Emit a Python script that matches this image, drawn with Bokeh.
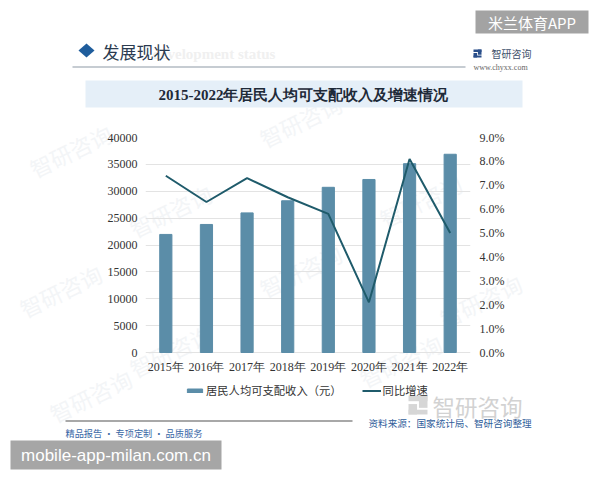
from bokeh.plotting import figure
from bokeh.models import (Range1d, LinearAxis, FixedTicker, Label, BoxAnnotation,
                          PolyAnnotation, Legend, LegendItem, CustomJSTickFormatter)
from bokeh.embed import file_html
from bokeh.resources import INLINE

years = ["2015年", "2016年", "2017年", "2018年", "2019年", "2020年", "2021年", "2022年"]
income = [21966, 23821, 25974, 28228, 30733, 32189, 35128, 36883]
growth = [7.4, 6.3, 7.3, 6.5, 5.8, 2.1, 8.1, 5.0]
left_ticks = [0, 5000, 10000, 15000, 20000, 25000, 30000, 35000, 40000]
right_ticks = [0, 1, 2, 3, 4, 5, 6, 7, 8, 9]
left_max, right_max = 40000, 9

W, H = 600, 480
# plotting area (pixels): value axis from y=352 (zero) up to y=137 (max)
FL, FR, FT, ZERO = 145, 470, 137, 352
FB = 402   # frame extends below zero to hold axis labels and legend

SERIF = "Liberation Serif"
CJK = "Noto Sans CJK SC"
ABS = {"position": "absolute", "left": "0px", "top": "0px"}

# ---------------- background page (decorations) ----------------
bg = figure(width=W, height=H, x_range=Range1d(0, W), y_range=Range1d(H, 0),
            x_axis_type=None, y_axis_type=None, output_backend="svg",
            toolbar_location=None, min_border=0, styles=ABS)
bg.outline_line_color = None
bg.grid.grid_line_color = None
bg.background_fill_color = "white"
bg.border_fill_color = "white"


def box(l, r, t, b, color, alpha=1.0):
    bg.add_layout(BoxAnnotation(left=l, right=r, top=t, bottom=b, fill_color=color,
                                fill_alpha=alpha, line_color=None, line_alpha=0))


def label(x, y, text, font, size, color, align="left", style="normal", angle=0):
    bg.add_layout(Label(x=x, y=y, text=text, text_font=font, text_font_size=size,
                        text_color=color, text_align=align, text_baseline="middle",
                        text_font_style=style, angle=angle))


def logo_icon(x, y, s, color):
    # small stylised logo mark: two stacked bars with a side stroke
    box(x, x + s, y, y + 0.3 * s, color)
    box(x + 0.55 * s, x + s, y, y + 0.65 * s, color)
    box(x, x + 0.45 * s, y + 0.45 * s, y + s, color)
    box(x, x + s, y + 0.75 * s, y + s, color)


# faint watermarks
for wx, wy in [(70, 150), (300, 120), (170, 210), (420, 200), (60, 290),
               (300, 270), (480, 300), (170, 350), (400, 360), (90, 395)]:
    label(wx, wy, "智研咨询", CJK, "22px", "#f3f5f7", align="center", angle=0.45)

label(152, 53, "development status", SERIF, "15px", "#f0f0f0", style="bold")
bg.add_layout(PolyAnnotation(xs=[78, 86, 94, 86], ys=[50, 43, 50, 57],
                             fill_color="#1f5d9c", fill_alpha=1, line_color=None))
label(102, 51, "发展现状", CJK, "17px", "#2b3b50")
box(72, 465, 66, 67, "#8d99a6")
logo_icon(473, 49, 8, "#2a4f8a")
label(491, 53, "智研咨询", CJK, "10px", "#3d4f6a")
label(473, 67, "www.chyxx.com", SERIF, "8px", "#666666")
box(85, 522, 80, 107, "#e5eff8")
label(303, 94, "2015-2022年居民人均可支配收入及增速情况", SERIF, "15px", "#1e2a38",
      align="center", style="bold")
box(475, 588, 10, 33, "#a3a3a3")
label(531.5, 21.5, "米兰体育APP", CJK, "15px", "white", align="center")

logo_icon(408, 395, 19, "#d6d6d6")
label(432, 405, "智研咨询", CJK, "22.5px", "#d2d2d2")
box(65, 352, 419.5, 421.5, "#a8a8a8")
label(368, 422, "资料来源：国家统计局、智研咨询整理", CJK, "9.6px", "#2f5d9a")
label(65, 432, "精品报告 · 专项定制 · 品质服务", CJK, "9.2px", "#3a68a6")
box(10, 221, 440, 469, "#a6a6a6")
label(115.5, 455, "mobile-app-milan.com.cn", "Liberation Sans", "17px", "white", align="center")

# ---------------- chart (transparent, overlaid) ----------------
below = (FB - ZERO) / (ZERO - FT)   # fraction of the value span that lies below zero
p = figure(width=W, height=H, x_range=years,
           y_range=Range1d(-below * left_max, left_max),
           output_backend="svg", toolbar_location=None,
           min_border_left=FL, min_border_right=W - FR,
           min_border_top=FT, min_border_bottom=H - FB, styles=ABS)
p.outline_line_color = None
p.background_fill_alpha = 0
p.border_fill_alpha = 0
p.extra_y_ranges = {"pct": Range1d(-below * right_max, right_max)}


def style_axis(ax, standoff):
    ax.axis_line_color = None
    ax.major_tick_line_color = None
    ax.minor_tick_line_color = None
    ax.major_tick_out = 0
    ax.major_tick_in = 0
    ax.minor_tick_out = 0
    ax.major_label_text_font = SERIF
    ax.major_label_text_font_size = "12px"
    ax.major_label_text_color = "#333333"
    ax.major_label_standoff = standoff


p.xaxis.fixed_location = 0
style_axis(p.xaxis[0], 7)

p.yaxis.ticker = FixedTicker(ticks=left_ticks)
style_axis(p.yaxis[0], 8)

ra = LinearAxis(y_range_name="pct", ticker=FixedTicker(ticks=right_ticks),
                formatter=CustomJSTickFormatter(code="return tick.toFixed(1) + '%';"))
style_axis(ra, 9)
p.add_layout(ra, "right")

p.xgrid.grid_line_color = None
p.ygrid.grid_line_color = "#e3e3e3"
p.ygrid.ticker = FixedTicker(ticks=left_ticks)

bars = p.vbar(x=years, top=income, width=0.3, color="#5b8da8")
line = p.line(x=years, y=growth, y_range_name="pct", line_color="#1f5b6b", line_width=2)

legend = Legend(items=[LegendItem(label="居民人均可支配收入（元）", renderers=[bars]),
                       LegendItem(label="同比增速", renderers=[line])],
                orientation="horizontal", location=(40, 4))
legend.padding = 0
legend.margin = 0
legend.spacing = 20
legend.label_standoff = 2
legend.glyph_width = 19
legend.glyph_height = 5
legend.label_text_font = CJK
legend.label_text_font_size = "11.3px"
legend.label_text_color = "#333333"
legend.border_line_color = None
legend.background_fill_alpha = 0
p.add_layout(legend, "center")

open("out.html", "w").write(file_html([bg, p], INLINE))
